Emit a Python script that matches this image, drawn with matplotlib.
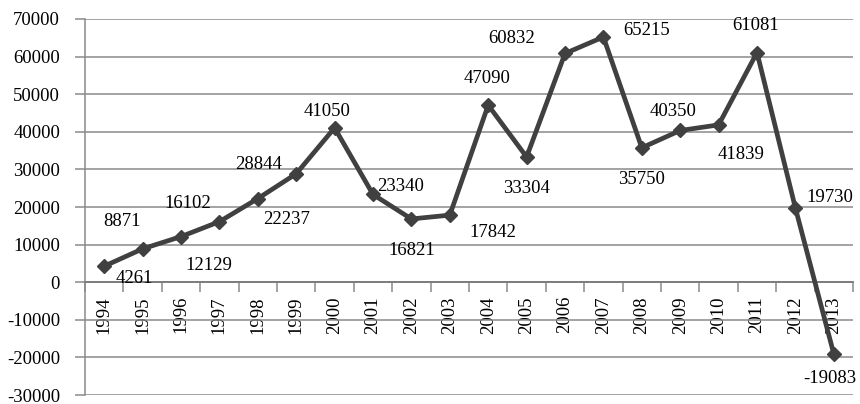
import numpy as np
import matplotlib.pyplot as plt

years = [str(y) for y in range(1994, 2014)]
values = [4261, 8871, 12129, 16102, 22237, 28844, 41050, 23340, 16821, 17842,
          47090, 33304, 60832, 65215, 35750, 40350, 41839, 61081, 19730, -19083]

# where each data label sits relative to its point (pixels, right / up)
label_offsets = [(30, -12), (-21, 27), (28, -29), (-32, 18), (29, -21),
                 (-38, 9), (-8, 16), (28, 8), (0, -32), (43, -17),
                 (-1, 27), (0, -32), (-53, 15), (43, 6), (0, -32),
                 (-7, 19), (22, -30), (-1, 27), (34, 11), (-4, -25)]

plt.rcParams['font.family'] = ['Liberation Serif', 'DejaVu Serif']
plt.rcParams['font.size'] = 13.5

grid_color = '#8a8a8a'
line_color = '#404040'

fig = plt.figure(figsize=(8.6, 4.04), dpi=100)
ax = fig.add_axes([85 / 860, 9 / 404, 768 / 860, 376 / 404])

x = np.arange(len(years))
ax.plot(x, values, color=line_color, linewidth=3.4, marker='D',
        markersize=7.5, markerfacecolor=line_color, markeredgecolor=line_color,
        zorder=5, clip_on=False)

for i, v in enumerate(values):
    dx, dy = label_offsets[i]
    ax.annotate(str(v), (i, v), xytext=(dx, dy), textcoords='offset pixels',
                ha='center', va='center', color='k', zorder=10)

ax.set_xlim(-0.5, len(years) - 0.5)
ax.set_ylim(-30000, 70000)
ax.set_yticks(np.arange(-30000, 70001, 10000))
ax.set_yticklabels([str(t) for t in range(-30000, 70001, 10000)])

# category boundaries get tick marks, the years sit in between
ax.set_xticks(np.arange(-0.5, len(years)), labels=[''] * (len(years) + 1))
ax.set_xticks(x, minor=True)
ax.set_xticklabels(years, minor=True)
ax.tick_params(axis='x', which='major', length=7, width=1.1, color=grid_color,
               direction='out')
ax.tick_params(axis='x', which='minor', length=0, pad=10, labelrotation=90)
ax.tick_params(axis='y', length=7, width=1.1, color=grid_color, pad=11)

ax.grid(axis='y', color=grid_color, linewidth=1.1, zorder=0)
ax.set_axisbelow(True)

for side in ['top', 'right']:
    ax.spines[side].set_visible(False)
ax.spines['left'].set_color(grid_color)
ax.spines['left'].set_linewidth(1.1)
ax.spines['bottom'].set_position(('data', 0))
ax.spines['bottom'].set_color('#7a7a7a')
ax.spines['bottom'].set_linewidth(1.3)

fig.savefig('out.png', dpi=100)
